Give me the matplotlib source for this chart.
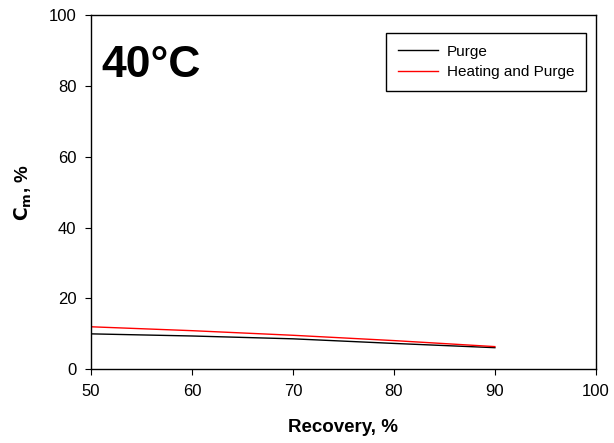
import matplotlib
matplotlib.use('Agg')
import matplotlib.pyplot as plt

plt.rcParams['font.family'] = ['Liberation Sans', 'DejaVu Sans']

recovery = [50, 60, 70, 80, 90]
purge = [10.0, 9.4, 8.6, 7.3, 6.1]
heat_purge = [12.0, 10.9, 9.6, 8.1, 6.4]

fig = plt.figure(figsize=(6.14, 4.43), dpi=100)
ax = fig.add_axes([0.148, 0.1664, 0.8225, 0.7997])

ax.plot(recovery, purge, color='black', lw=1, label='Purge')
ax.plot(recovery, heat_purge, color='red', lw=1, label='Heating and Purge')

ax.set_xlim(50, 100)
ax.set_ylim(0, 100)
ax.set_xticks([50, 60, 70, 80, 90, 100])
ax.set_yticks([0, 20, 40, 60, 80, 100])
ax.tick_params(direction='out', length=4.3, pad=6, labelsize=12, top=False, right=False)
for s in ax.spines.values():
    s.set_linewidth(1)

ax.set_xlabel('Recovery, %', fontsize=13.5, fontweight='bold', labelpad=15)
ax.set_ylabel(r'$\mathbf{C_m}$, %', fontsize=13.5, fontweight='bold', labelpad=11)

ax.text(11 / 505, 1 - 30 / 354, '40°C', transform=ax.transAxes, fontsize=32,
        fontweight='bold', va='top', ha='left')

leg = ax.legend(loc='upper right', bbox_to_anchor=(0.980, 0.949), borderaxespad=0,
                fontsize=11, fancybox=False, edgecolor='black', framealpha=1,
                handlelength=2.6, handletextpad=0.6, borderpad=0.75, labelspacing=0.45)
leg.get_frame().set_linewidth(1)

fig.savefig('out.png', dpi=100)
